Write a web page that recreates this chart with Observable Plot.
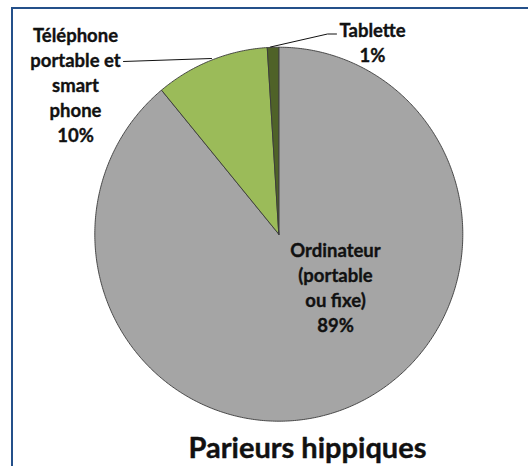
<!DOCTYPE html>
<html>
<head>
<meta charset="utf-8">
<script src="https://cdn.jsdelivr.net/npm/d3@7"></script>
<script src="https://cdn.jsdelivr.net/npm/@observablehq/plot@0.6"></script>
<style>
  html, body { margin: 0; padding: 0; background: #fff; }
  #wrap { position: relative; width: 528px; height: 466px; overflow: hidden; }
  #border { position: absolute; left: 11px; top: 7px; width: 530px; height: 480px;
            border-top: 2px solid #24508a; border-left: 2px solid #24508a; pointer-events: none; }
  svg { display: block; }
</style>
</head>
<body>
<div id="wrap"><div id="border"></div></div>
<script>
// ---- data ----
const categories = ["Ordinateur (portable ou fixe)", "Téléphone portable et smart phone", "Tablette"];
const values = [89, 10, 1];
const labels = ["Ordinateur\n(portable\nou fixe)\n89%", "Téléphone\nportable et\nsmart\nphone\n10%", "Tablette\n1%"];
const colors = ["#a5a5a5", "#9bbb59", "#4f6228"];
const title = "Parieurs hippiques";

// ---- layout (pixel -> unit circle coords) ----
const W = 528, H = 466;
const cx = 278.3, cy = 233.7, rx = 184, ry = 187;
const X = px => (px - cx) / rx;
const Y = py => (cy - py) / ry;

// wedges, clockwise from 12 o'clock
const total = d3.sum(values);
const wedges = [];
let acc = 0;
values.forEach((v, i) => {
  const a0 = acc / total * 2 * Math.PI;
  acc += v;
  const a1 = acc / total * 2 * Math.PI;
  const n = Math.max(4, Math.ceil((a1 - a0) / 0.01));
  wedges.push({cat: categories[i], x: 0, y: 0});
  for (let k = 0; k <= n; k++) {
    const a = a0 + (a1 - a0) * k / n;
    wedges.push({cat: categories[i], x: Math.sin(a), y: Math.cos(a)});
  }
  wedges.push({cat: categories[i], x: 0, y: 0});
});

const FS = 18.5;
const labelPos = [
  {x: X(335), y: Y(252 - 0.71 * FS)},
  {x: X(75), y: Y(37 - 0.71 * FS)},
  {x: X(372), y: Y(32 - 0.71 * FS)}
];
const labelData = labels.map((t, i) => ({text: t, ...labelPos[i]}));

const leaders = [
  {g: 0, x: X(123), y: Y(61)}, {g: 0, x: X(211), y: Y(58)},
  {g: 1, x: X(336), y: Y(33.5)}, {g: 1, x: X(327), y: Y(33.5)}, {g: 1, x: X(270), y: Y(46.5)}
];

const TFS = 29;
const chart = Plot.plot({
  width: W, height: H,
  margin: 0,
  x: {domain: [X(0), X(W)], axis: null},
  y: {domain: [Y(H), Y(0)], axis: null},
  color: {domain: categories, range: colors},
  style: {background: "transparent"},
  marks: [
    Plot.line(wedges, {x: "x", y: "y", z: "cat", fill: "cat", stroke: "#3a3a3a", strokeWidth: 0.9, curve: "linear"}),
    Plot.line(leaders, {x: "x", y: "y", z: "g", stroke: "#111", strokeWidth: 1}),
    Plot.text(labelData, {x: "x", y: "y", text: "text", lineAnchor: "top", lineHeight: 25 / FS,
      fontFamily: "Lato", fontWeight: "bold", fontSize: FS, fill: "#111", stroke: "#111", strokeWidth: 0.35,
      textAnchor: "middle"}),
    Plot.text([title], {x: X(307), y: Y(457 - 0.71 * TFS), text: d => d, lineAnchor: "top",
      fontFamily: "Lato", fontWeight: "bold", fontSize: TFS, fill: "#111", stroke: "#111", strokeWidth: 0.4,
      textAnchor: "middle"})
  ]
});
document.getElementById("wrap").prepend(chart);
</script>
</body>
</html>
